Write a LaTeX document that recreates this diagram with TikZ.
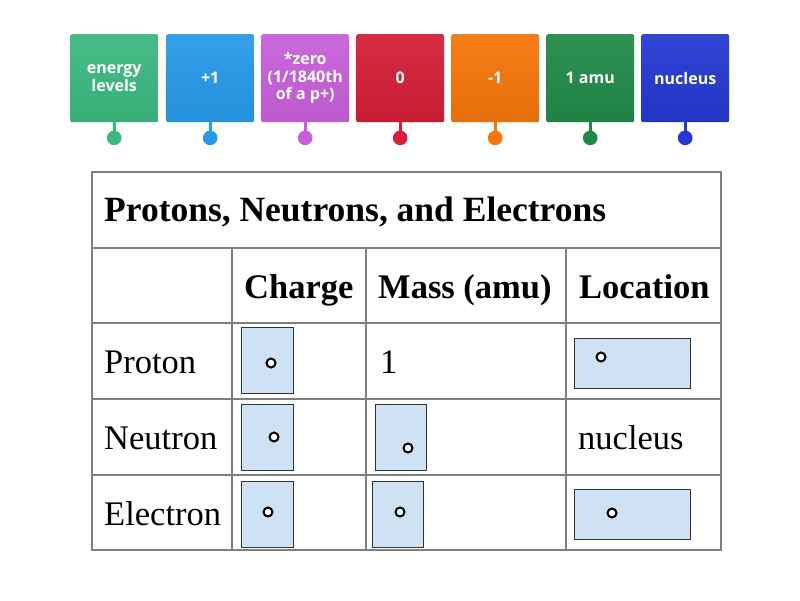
\documentclass[tikz,border=0pt]{standalone}
\usepackage{fontspec}
\setmainfont{Liberation Serif}
\newfontfamily\tilefont{Open Sans}
\definecolor{cA}{HTML}{3BB87F}
\definecolor{cB}{HTML}{279AEA}
\definecolor{cC}{HTML}{C85FD9}
\definecolor{cD}{HTML}{D51E37}
\definecolor{cE}{HTML}{F5760B}
\definecolor{cF}{HTML}{218A49}
\definecolor{cG}{HTML}{2438D2}
\definecolor{boxfill}{HTML}{CFE2F3}
\definecolor{gridgray}{HTML}{7F7F7F}
\begin{document}
\begin{tikzpicture}[x=1pt,y=-1pt,
  tile/.style={rectangle, rounded corners=2pt, minimum width=88pt, minimum height=88pt,
    inner sep=0pt, anchor=north west, text=white, align=center,
    font=\tilefont\bfseries\fontsize{16}{17.5}\selectfont,
    top color=#1!94!white, bottom color=#1!94!black},
  stem/.style={line width=3pt, draw=#1},
  pin/.style={circle, fill=#1, minimum size=14.6pt, inner sep=0pt},
  tableline/.style={draw=gridgray, line width=2pt},
  ttl/.style={anchor=base west, inner sep=0pt, font=\bfseries\fontsize{34.5}{40}\selectfont},
  cell/.style={anchor=base west, inner sep=0pt, font=\fontsize{34.5}{40}\selectfont},
  answer/.style={draw=black!80, line width=0.9pt, fill=boxfill},
  hole/.style={circle, draw=black, line width=2pt, fill=white, minimum size=9pt, inner sep=0pt}]
\useasboundingbox (0,0) rectangle (800,600);
\fill[white] (0,0) rectangle (800,600);

% tiles
\node[tile=cA] (t1) at (70,34) {energy\\levels};
\node[tile=cB] (t2) at (166,34) {+1};
\node[tile=cC] (t3) at (261,34) {*zero\\(1/1840th\\of a p+)};
\node[tile=cD] (t4) at (356,34) {0};
\node[tile=cE] (t5) at (451,34) {-1};
\node[tile=cF] (t6) at (546,34) {1 amu};
\node[tile=cG] (t7) at (641,34) {nucleus};

\foreach \i/\c in {1/cA,2/cB,3/cC,4/cD,5/cE,6/cF,7/cG}{
  \coordinate (p\i) at ([yshift=-15.5pt]t\i.south);
  \draw[stem=\c] (t\i.south) -- (p\i);
  \node[pin=\c] (d\i) at (p\i) {};
}

% table grid
\draw[tableline] (92,172) rectangle (721,550);
\foreach \y in {248,323,399,475}{ \draw[tableline] (92,\y) -- (721,\y); }
\foreach \x in {232,366,566}{ \draw[tableline] (\x,248) -- (\x,550); }

% texts
\node[ttl, font=\bfseries\fontsize{35.5}{40}\selectfont] (title) at (104,221) {Protons, Neutrons, and Electrons};
\node[ttl] (hC) at (244,298) {Charge};
\node[ttl] (hM) at (378,298) {Mass (amu)};
\node[ttl] (hL) at (579,298) {Location};
\node[cell] (rP) at (104,373) {Proton};
\node[cell] (vP) at (380,373) {1};
\node[cell] (rN) at (104,449) {Neutron};
\node[cell] (vN) at (578,449) {nucleus};
\node[cell] (rE) at (104,525) {Electron};

% answer boxes
\draw[answer] (241,327) rectangle (293,393);
\node[hole] (hpc) at (271,363) {};
\draw[answer] (574,338) rectangle (690,388);
\node[hole] (hpl) at (601,357) {};
\draw[answer] (241,404) rectangle (293,470);
\node[hole] (hnc) at (274,437) {};
\draw[answer] (375,404) rectangle (426,470);
\node[hole] (hnm) at (408,448) {};
\draw[answer] (241,481) rectangle (293,547);
\node[hole] (hec) at (268,512) {};
\draw[answer] (372,481) rectangle (423,547);
\node[hole] (hem) at (400,512) {};
\draw[answer] (574,489) rectangle (690,539);
\node[hole] (hel) at (612,513) {};
\end{tikzpicture}
\end{document}
